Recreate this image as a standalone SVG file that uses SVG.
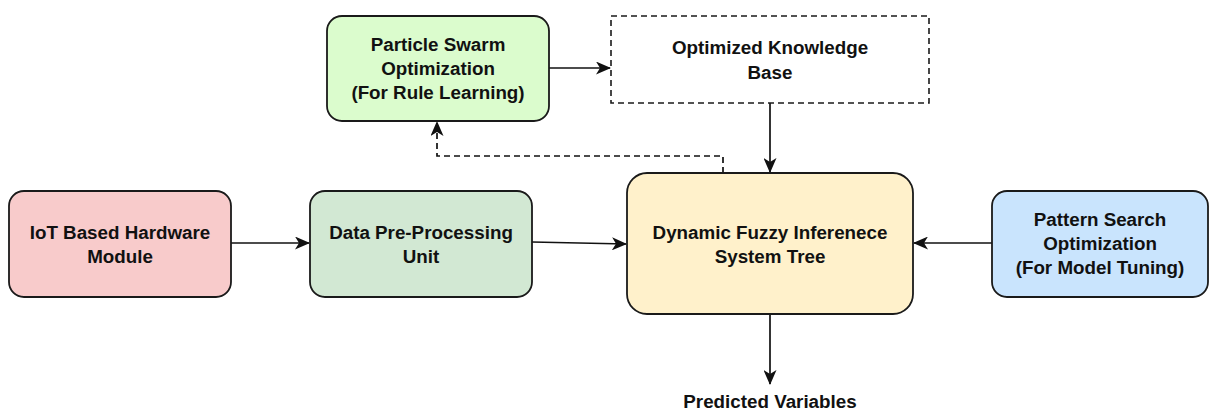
<svg xmlns="http://www.w3.org/2000/svg" width="1210" height="412" viewBox="0 0 1210 412">
  <style>
    .box { stroke: #1a1a1a; stroke-width: 1.8; }
    .dash { fill: #ffffff; stroke: #1a1a1a; stroke-width: 1.6; stroke-dasharray: 6 4; }
    .lbl { font-family: "Liberation Sans", Arial, sans-serif; font-weight: bold; font-size: 18.8px; fill: #111111; text-anchor: middle; }
    .edge { fill: none; stroke: #111111; stroke-width: 1.7; }
    .edge-dash { fill: none; stroke: #111111; stroke-width: 1.7; stroke-dasharray: 6 4; }
  </style>
  <defs>
    <marker id="arrow" viewBox="0 0 15 13" refX="14" refY="6.5" markerWidth="15" markerHeight="13" markerUnits="userSpaceOnUse" orient="auto">
      <path d="M0,0 L15,6.5 L0,13 L4,6.5 Z" fill="#111111"/>
    </marker>
  </defs>

  <rect width="1210" height="412" fill="#ffffff"/>

  <g id="connectors">
    <line class="edge" x1="549" y1="68" x2="610" y2="68" marker-end="url(#arrow)"/>
    <line class="edge" x1="770" y1="103" x2="770" y2="172" marker-end="url(#arrow)"/>
    <polyline class="edge-dash" points="723,173 723,156 437,156 437,122" marker-end="url(#arrow)"/>
    <line class="edge" x1="231" y1="243" x2="309" y2="243" marker-end="url(#arrow)"/>
    <line class="edge" x1="532" y1="242" x2="626" y2="244" marker-end="url(#arrow)"/>
    <line class="edge" x1="992" y1="243" x2="914" y2="243" marker-end="url(#arrow)"/>
    <line class="edge" x1="770" y1="314" x2="770" y2="384" marker-end="url(#arrow)"/>
  </g>

  <g id="pso">
    <rect class="box" x="327" y="16" width="222" height="105" rx="15" fill="#dbfccd"/>
    <text class="lbl" x="438" y="51">Particle Swarm</text>
    <text class="lbl" x="438" y="75">Optimization</text>
    <text class="lbl" x="438" y="99">(For Rule Learning)</text>
  </g>

  <g id="knowledge-base">
    <rect class="dash" x="611" y="16" width="318" height="87"/>
    <text class="lbl" x="770" y="54">Optimized Knowledge</text>
    <text class="lbl" x="770" y="79">Base</text>
  </g>

  <g id="iot-module">
    <rect class="box" x="9" y="191" width="222" height="106" rx="15" fill="#f8cbcb"/>
    <text class="lbl" x="120" y="239">IoT Based Hardware</text>
    <text class="lbl" x="120" y="263">Module</text>
  </g>

  <g id="preprocessing">
    <rect class="box" x="310" y="191" width="222" height="106" rx="15" fill="#d2e8d3"/>
    <text class="lbl" x="421" y="239">Data Pre-Processing</text>
    <text class="lbl" x="421" y="263">Unit</text>
  </g>

  <g id="fuzzy-tree">
    <rect class="box" x="627" y="173" width="286" height="141" rx="20" fill="#fff1cb"/>
    <text class="lbl" x="770" y="239">Dynamic Fuzzy Inferenece</text>
    <text class="lbl" x="770" y="263">System Tree</text>
  </g>

  <g id="pattern-search">
    <rect class="box" x="992" y="191" width="216" height="106" rx="15" fill="#c9e4fd"/>
    <text class="lbl" x="1100" y="226">Pattern Search</text>
    <text class="lbl" x="1100" y="250">Optimization</text>
    <text class="lbl" x="1100" y="274">(For Model Tuning)</text>
  </g>

  <g id="output">
    <text class="lbl" x="770" y="408">Predicted Variables</text>
  </g>
</svg>
